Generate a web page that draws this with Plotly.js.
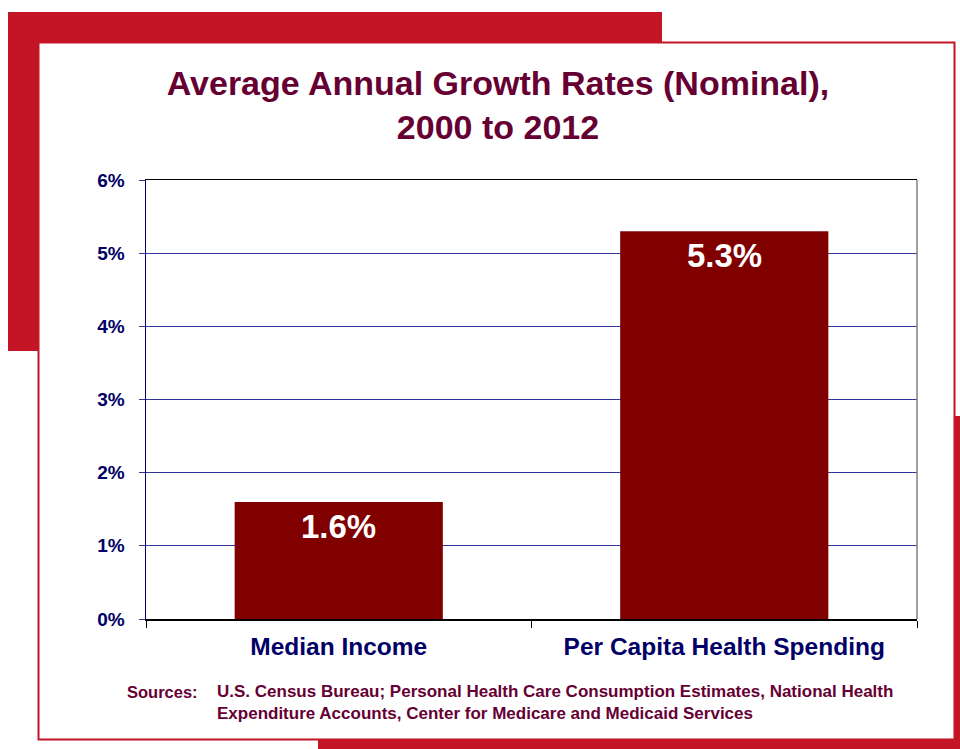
<!DOCTYPE html>
<html>
<head>
<meta charset="utf-8">
<script src="https://cdn.plot.ly/plotly-3.0.1.min.js"></script>
<style>html,body{margin:0;padding:0;background:#fff;}#chart{width:960px;height:749px;}</style>
</head>
<body>
<div id="chart"></div>
<script>
// Data
var categories = ["Median Income", "Per Capita Health Spending"];
var growthRates = [1.6, 5.3];
var valueLabels = ["1.6%", "5.3%"];
var yTickVals = [0, 1, 2, 3, 4, 5, 6];
var yTickText = ["0%", "1%", "2%", "3%", "4%", "5%", "6%"];
var titleText = "Average Annual Growth Rates (Nominal),<br>2000 to 2012";
var sourceLabel = "Sources:";
var sourceLines = [
  "U.S. Census Bureau; Personal Health Care Consumption Estimates, National Health",
  "Expenditure Accounts, Center for Medicare and Medicaid Services"
];

// Layout geometry (pixels)
var W = 960, H = 749;
var L = 146, R = 917, T = 180, B = 619;
function px(x) { return (x - L) / (R - L); }
function py(y) { return (B - y) / (B - T); }

var RED = "#c41526";
var MAROON = "#660033";
var NAVY = "#000066";
var FONT = "Liberation Sans, Arial, sans-serif";

var shapes = [
  {type: "rect", xref: "paper", yref: "paper", layer: "below",
   x0: px(8), x1: px(662), y0: py(351), y1: py(12), fillcolor: RED, line: {width: 0}},
  {type: "rect", xref: "paper", yref: "paper", layer: "below",
   x0: px(318), x1: px(962), y0: py(751), y1: py(416), fillcolor: RED, line: {width: 0}},
  {type: "rect", xref: "paper", yref: "paper", layer: "below",
   x0: px(38.5), x1: px(954.5), y0: py(739.5), y1: py(42.5), fillcolor: "#ffffff",
   line: {color: RED, width: 2}},
  {type: "line", xref: "paper", yref: "paper", layer: "above",
   x0: 1, x1: 1, y0: 0, y1: 1, line: {color: "#808080", width: 1.5}}
];

var annotations = categories.map(function (c, i) {
  return {x: c, y: growthRates[i], xref: "x", yref: "y", text: "<b>" + valueLabels[i] + "</b>",
    showarrow: false, yanchor: "top", yshift: -4,
    font: {family: FONT, size: 33, color: "#ffffff"}};
});
annotations.push({
  xref: "paper", yref: "paper", x: px(125), y: py(692), xanchor: "left", yanchor: "middle",
  text: "<b>" + sourceLabel + "</b>", showarrow: false, align: "left",
  font: {family: FONT, size: 16.5, color: MAROON}
});
annotations.push({
  xref: "paper", yref: "paper", x: px(215), y: py(702), xanchor: "left", yanchor: "middle",
  text: "<b>" + sourceLines.join("<br>") + "</b>", showarrow: false, align: "left",
  font: {family: FONT, size: 17, color: MAROON}
});

var trace = {
  type: "bar", x: categories, y: growthRates,
  marker: {color: "#800000", line: {width: 0}},
  hoverinfo: "none"
};

var layout = {
  width: W, height: H,
  margin: {l: L, r: W - R, t: T, b: H - B, pad: 0},
  paper_bgcolor: "#ffffff",
  plot_bgcolor: "rgba(0,0,0,0)",
  showlegend: false,
  bargap: 0.46,
  title: {
    text: "<b>" + titleText + "</b>",
    xref: "paper", x: px(498), xanchor: "center",
    yref: "container", y: 1 - 95 / H, yanchor: "middle",
    font: {family: FONT, size: 34, color: MAROON}
  },
  xaxis: {
    type: "category",
    showgrid: false,
    showline: true, linecolor: "#000000", linewidth: 1.5, mirror: true,
    ticks: "outside", tickson: "boundaries", ticklen: 7, tickcolor: "#000000", tickwidth: 1,
    ticklabelstandoff: 5,
    tickfont: {family: FONT, size: 24.5, color: NAVY, weight: "bold"},
    fixedrange: true
  },
  yaxis: {
    range: [0, 6],
    tickvals: yTickVals, ticktext: yTickText,
    showgrid: true, gridcolor: "#333399", gridwidth: 1,
    zeroline: false,
    showline: true, linecolor: NAVY, linewidth: 1.5,
    ticks: "outside", ticklen: 6, tickcolor: "#333399",
    ticklabelstandoff: 10,
    tickfont: {family: FONT, size: 19, color: NAVY, weight: "bold"},
    fixedrange: true
  },
  shapes: shapes,
  annotations: annotations
};

Plotly.newPlot("chart", [trace], layout, {staticPlot: true, displayModeBar: false});
</script>
</body>
</html>
